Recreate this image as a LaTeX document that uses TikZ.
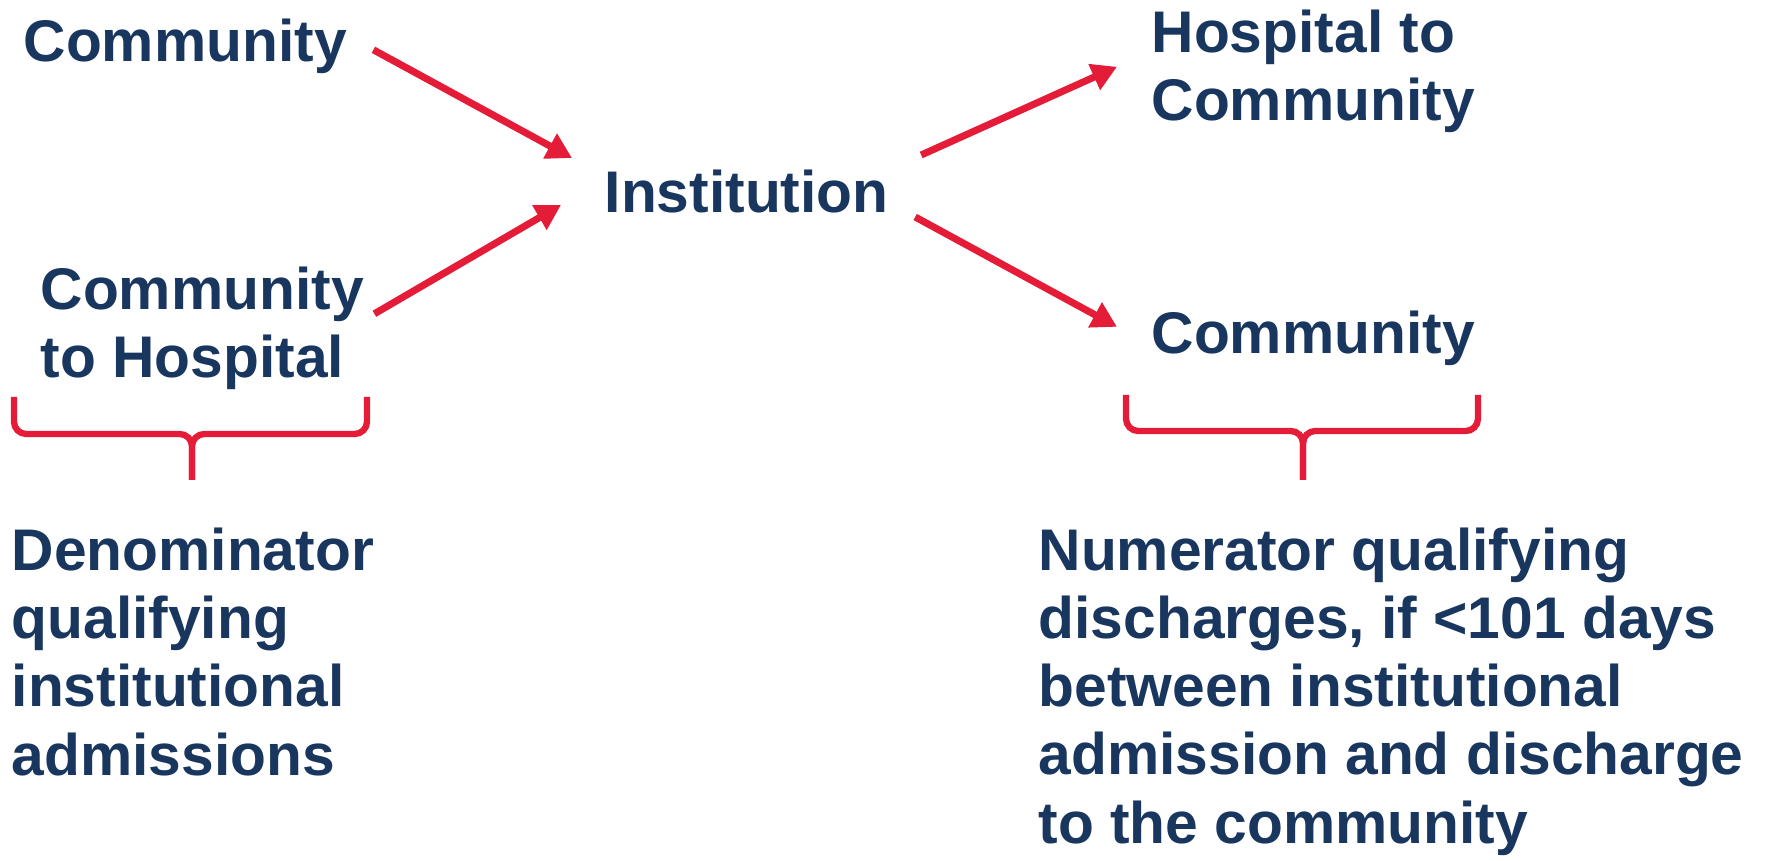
\documentclass[tikz,border=0pt]{standalone}
\usepackage{fontspec}
\setsansfont{Liberation Sans}
\usetikzlibrary{arrows.meta,calc}

\definecolor{navy}{RGB}{24,54,94}
\definecolor{flowred}{RGB}{228,28,56}

\begin{document}
\begin{tikzpicture}[x=0.01cm, y=-0.01cm,
    label/.style={anchor=base west, inner sep=0pt, align=left, text=navy,
                  font=\sffamily\bfseries\fontsize{16.7}{19.35}\selectfont},
    flow/.style={draw=flowred, line width=2pt, -{Triangle[length=2.5mm, width=2.7mm]}},
    bracket/.style={draw=flowred, line width=1.8pt, rounded corners=3.5pt}]

  \useasboundingbox (0,0) rectangle (1769,861);

  % multi-line labels sit on the baseline of their last line
  \node [label] (comm)    at (23,62)    {Community};
  \node [label] (c2h)     at (40,378)   {Community\\to Hospital};
  \node [label] (inst)    at (604,213)  {Institution};
  \node [label] (h2c)     at (1151,121) {Hospital to\\Community};
  \node [label] (commout) at (1151,354) {Community};

  \node [label] (denom)   at (11,775)   {Denominator\\qualifying\\institutional\\admissions};
  \node [label] (numer)   at (1038,843) {Numerator qualifying\\discharges, if <101 days\\between institutional\\admission and discharge\\to the community};

  \draw [flow] ($(comm.east)+(26,3)$)   -- ($(inst.west)+(-32,-34)$);
  \draw [flow] ($(c2h.east)+(10,-15)$)  -- ($(inst.west)+(-43,13)$);
  \draw [flow] ($(inst.east)+(32,-37)$) -- ($(h2c.west)+(-34,-5)$);
  \draw [flow] ($(inst.east)+(26,25)$)  -- ($(commout.west)+(-34,-12)$);

  % braces under the start and end points
  \draw [bracket] (14,397) -- (14,434) -- (192,434) -- (192,480);
  \draw [bracket] (367,397) -- (367,434) -- (192,434) -- (192,480);
  \draw [bracket] (1126,395) -- (1126,431) -- (1303,431) -- (1303,480);
  \draw [bracket] (1478,395) -- (1478,431) -- (1303,431) -- (1303,480);

\end{tikzpicture}
\end{document}
